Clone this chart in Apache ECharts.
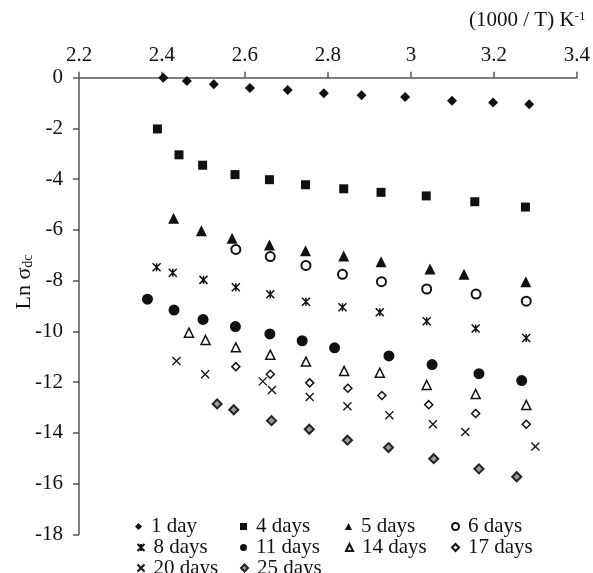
<!DOCTYPE html>
<html>
<head>
<meta charset="utf-8">
<script src="https://cdn.jsdelivr.net/npm/echarts@6/dist/echarts.min.js"></script>
<style>
  html, body { margin: 0; padding: 0; background: #fff; }
  #chart-container { width: 593px; height: 573px; }
</style>
</head>
<body>
<div id="chart-container"></div>
<script>
// [1000/T, ln sigma_dc]
const day1 = [[2.403, 0.0], [2.460, -0.13], [2.525, -0.26], [2.612, -0.41], [2.703, -0.48], [2.790, -0.61], [2.881, -0.69], [2.986, -0.76], [3.099, -0.91], [3.198, -0.98], [3.285, -1.05]];
const day4 = [[2.389, -2.02], [2.441, -3.04], [2.498, -3.45], [2.576, -3.82], [2.659, -4.02], [2.746, -4.22], [2.838, -4.38], [2.928, -4.52], [3.037, -4.66], [3.154, -4.89], [3.276, -5.10]];
const day5 = [[2.428, -5.54], [2.495, -6.03], [2.569, -6.33], [2.659, -6.60], [2.746, -6.82], [2.838, -7.03], [2.928, -7.26], [3.046, -7.54], [3.128, -7.75], [3.277, -8.04]];
const day6 = [[2.578, -6.77], [2.661, -7.05], [2.747, -7.40], [2.835, -7.75], [2.929, -8.04], [3.038, -8.33], [3.157, -8.53], [3.278, -8.81]];
const day8 = [[2.387, -7.47], [2.426, -7.69], [2.500, -7.97], [2.578, -8.26], [2.661, -8.54], [2.747, -8.83], [2.835, -9.05], [2.925, -9.25], [3.038, -9.60], [3.156, -9.89], [3.278, -10.26]];
const day11 = [[2.365, -8.73], [2.429, -9.16], [2.499, -9.53], [2.577, -9.81], [2.660, -10.10], [2.738, -10.37], [2.816, -10.65], [2.947, -10.97], [3.051, -11.31], [3.164, -11.67], [3.267, -11.94]];
const day14 = [[2.465, -10.05], [2.505, -10.34], [2.578, -10.63], [2.661, -10.92], [2.747, -11.19], [2.839, -11.56], [2.925, -11.63], [3.038, -12.11], [3.156, -12.47], [3.278, -12.90]];
const day17 = [[2.578, -11.39], [2.661, -11.69], [2.756, -12.03], [2.848, -12.24], [2.930, -12.53], [3.043, -12.89], [3.156, -13.24], [3.278, -13.66]];
const day20 = [[2.435, -11.17], [2.504, -11.69], [2.643, -11.97], [2.665, -12.31], [2.756, -12.59], [2.847, -12.95], [2.948, -13.31], [3.053, -13.66], [3.131, -13.97], [3.300, -14.54]];
const day25 = [[2.533, -12.86], [2.573, -13.09], [2.664, -13.52], [2.755, -13.86], [2.847, -14.29], [2.946, -14.58], [3.055, -15.02], [3.164, -15.42], [3.255, -15.73]];

const seriesNames = ["1 day", "4 days", "5 days", "6 days", "8 days", "11 days", "14 days", "17 days", "20 days", "25 days"];
const seriesData = [day1, day4, day5, day6, day8, day11, day14, day17, day20, day25];

var FONT = "Liberation Serif";
var INK = "#111";

// marker look per series
var cross = "path://M0,0L10,10M10,0L0,10";
var star = "path://M0,0L10,10M10,0L0,10M5,0L5,10";
var looks = [
  { symbol: "diamond", size: 10, color: INK, border: INK, bw: 0 },
  { symbol: "rect", size: 9, color: INK, border: INK, bw: 0 },
  { symbol: "triangle", size: 11, color: INK, border: INK, bw: 0 },
  { symbol: "circle", size: 9, color: "#fff", border: INK, bw: 2 },
  { symbol: star, size: 8, color: "none", border: INK, bw: 1.5 },
  { symbol: "circle", size: 11, color: INK, border: INK, bw: 0 },
  { symbol: "triangle", size: 9, color: "#fff", border: INK, bw: 1.5 },
  { symbol: "diamond", size: 8, color: "#fff", border: INK, bw: 1.5 },
  { symbol: cross, size: 8, color: "none", border: INK, bw: 1.3 },
  { symbol: "diamond", size: 9, color: "#999", border: "#222", bw: 2 }
];

// legend slots, 4 columns x 3 rows
var colX = [135, 240, 345, 451];
var rowY = [516, 537, 557.5];

var series = [];
var legends = [];
for (let i = 0; i < seriesNames.length; i++) {
  let lk = looks[i];
  series.push({
    name: seriesNames[i],
    type: "scatter",
    data: seriesData[i],
    symbol: lk.symbol,
    symbolSize: lk.size,
    clip: false,
    itemStyle: { color: lk.color, borderColor: lk.border, borderWidth: lk.bw, opacity: 1 },
    emphasis: { disabled: true }
  });
  legends.push({
    data: [seriesNames[i]],
    left: colX[i % 4],
    top: rowY[Math.floor(i / 4)],
    padding: 0,
    itemWidth: 7,
    itemHeight: 7,
    selectedMode: false,
    textStyle: { fontFamily: FONT, fontSize: 21, color: INK, padding: [0, 0, 0, 4] }
  });
}

var dom = document.getElementById("chart-container");
var myChart = echarts.init(dom, null, { renderer: "canvas" });

var option = {
  animation: false,
  backgroundColor: "#fff",
  grid: { left: 79, right: 14.7, top: 77.7, bottom: 38.7 },
  legend: legends,
  xAxis: {
    type: "value",
    position: "top",
    min: 2.2,
    max: 3.4,
    interval: 0.2,
    axisLine: { show: true, onZero: false, lineStyle: { color: "#555", width: 1.5 } },
    axisTick: { show: true, length: 6, lineStyle: { color: "#555", width: 1.5 } },
    axisLabel: { margin: 12, fontFamily: FONT, fontSize: 21, color: INK },
    splitLine: { show: false }
  },
  yAxis: {
    type: "value",
    min: -18,
    max: 0,
    interval: 2,
    axisLine: { show: true, onZero: false, lineStyle: { color: "#555", width: 1.5 } },
    axisTick: { show: true, length: 6, lineStyle: { color: "#555", width: 1.5 } },
    axisLabel: { margin: 16, fontFamily: FONT, fontSize: 21, color: INK },
    splitLine: { show: false }
  },
  graphic: [
    {
      type: "text",
      left: 469,
      top: 10,
      style: {
        text: "(1000 / T) K{sup|-1}",
        font: "21px Liberation Serif",
        fill: INK,
        rich: {
          sup: { fontFamily: FONT, fontSize: 13, fill: INK, color: INK, verticalAlign: "top", padding: [0, 0, 8, 0] }
        }
      }
    },
    {
      type: "text",
      x: 24,
      y: 282,
      rotation: Math.PI / 2,
      style: {
        text: "Ln σ{sub|dc}",
        font: "22px Liberation Serif",
        fill: INK,
        align: "center",
        verticalAlign: "middle",
        rich: {
          sub: { fontFamily: FONT, fontSize: 14, fill: INK, color: INK, verticalAlign: "bottom", padding: [8, 0, 0, 0] }
        }
      }
    }
  ],
  series: series
};

myChart.setOption(option);
window.addEventListener("resize", myChart.resize);
</script>
</body>
</html>
